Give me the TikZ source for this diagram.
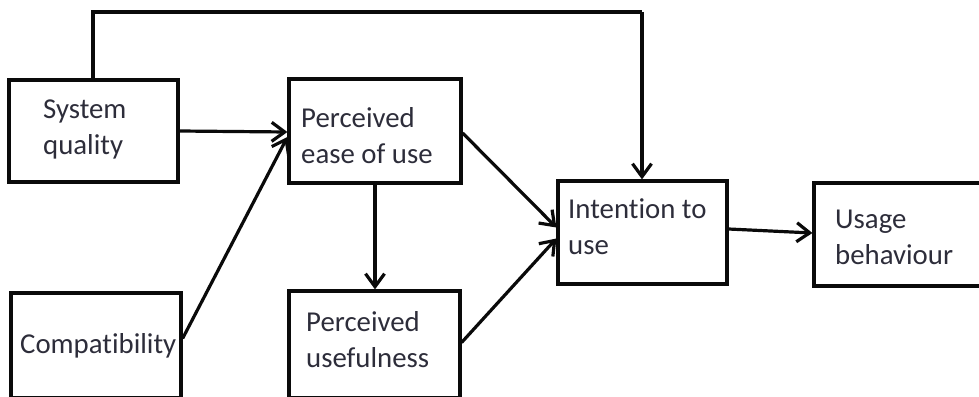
\documentclass[tikz,border=0pt]{standalone}
\usepackage{fontspec}
\setmainfont{Carlito}[Ligatures=NoCommon]
\usetikzlibrary{arrows.meta}
\definecolor{inkline}{RGB}{10,10,10}
\definecolor{inktext}{RGB}{45,45,58}
\begin{document}
\begin{tikzpicture}[x=1pt,y=-1pt,
  box/.style={draw=inkline, line width=3.2pt, rectangle, inner sep=0pt},
  lbl/.style={inner sep=0pt, anchor=west, align=left, text=inktext,
    font=\fontsize{28.8}{36}\selectfont},
  conn/.style={draw=inkline, line width=3.2pt,
    -{Straight Barb[length=13pt,width=19pt,line width=3.2pt]}},
  plain/.style={draw=inkline, line width=3.2pt}]
\useasboundingbox (0,0) rectangle (979,396);
\clip (0,0) rectangle (979,396);

% construct boxes (corners given by stroke centre lines)
\node[box, minimum width=169pt, minimum height=102pt] (sq)   at (93.5,131) {};
\node[box, minimum width=170pt, minimum height=105pt] (comp) at (96,345.5) {};
\node[box, minimum width=172pt, minimum height=104pt] (peu)  at (375,131) {};
\node[box, minimum width=171pt, minimum height=107pt] (pu)   at (374.5,344.5) {};
\node[box, minimum width=169pt, minimum height=103pt] (itu)  at (642.5,232.5) {};
\node[box, minimum width=180pt, minimum height=103pt] (ub)   at (904,234.5) {};

% box labels
\node[lbl] (sq-t)   at (43,129)  {System\\quality};
\node[lbl] (comp-t) at (20,346)  {Compatibility};
\node[lbl] (peu-t)  at (301,136) {Perceived\\ease of use};
\node[lbl] (pu-t)   at (306,340) {Perceived\\usefulness};
\node[lbl] (itu-t)  at (568,227) {Intention to\\use};
\node[lbl] (ub-t)   at (835,237) {Usage\\behaviour};

% links
\coordinate (top-l) at (93,12);
\coordinate (top-r) at (642,12);
\draw[plain] (sq.north -| top-l) -- (top-l) -- (top-r);
\draw[conn] (top-r) -- (itu.north -| top-r);
\draw[conn] (sq.east) -- ([yshift=-1pt]peu.west);
\draw[conn] ([yshift=7pt]comp.east) -- ([yshift=-6pt]peu.west);
\draw[conn] (peu.south) -- (pu.north -| peu.south);
\draw[conn] ([yshift=-2pt]peu.east) -- ([yshift=5pt]itu.west);
\draw[conn] ([yshift=2pt]pu.east) -- ([yshift=-6pt]itu.west);
\draw[conn] ([yshift=3.5pt]itu.east) -- ([yshift=1.5pt]ub.west);
\end{tikzpicture}
\end{document}
